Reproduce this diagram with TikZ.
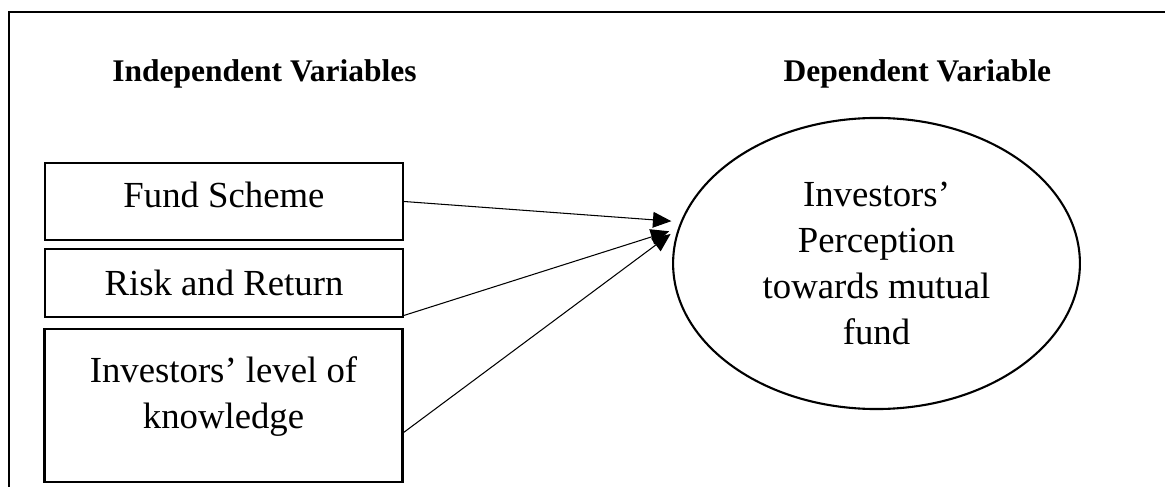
\documentclass[tikz,border=0pt]{standalone}
\usepackage{fontspec}
\setmainfont{Liberation Serif}
\usetikzlibrary{shapes.geometric, arrows.meta}

\begin{document}
\begin{tikzpicture}[x = 0.381pt, y = -0.381pt,
	head/.style = {font = \fontsize{12}{14}\selectfont\bfseries, inner sep = 0pt},
	var/.style = {draw, line width = 0.8pt, minimum width = 136.4pt, inner sep = 0pt, align = center, font = \fontsize{14}{17.5}\selectfont},
	link/.style = {-{Triangle[length = 7pt, width = 6pt]}, line width = 0.4pt, shorten > = 3.5pt}]
	\useasboundingbox (0,0) rectangle (1165,487);
	%frame
	\draw[line width = 0.6pt] (9,487) -- (9,12) -- (1165,12);
	
	%headings
	\node[head, anchor = base] (indep) at (264.5,82) {Independent Variables};
	\node[head, anchor = base west] (dep) at (783,82) {Dependent Variable};
	
	%independent variables
	\node[var, minimum height = 29.3pt, text depth = 5.5pt] (fund) at (224,201.5) {Fund Scheme};
	\node[var, minimum height = 25.9pt] (risk) at (224,283) {Risk and Return};
	\node[var, minimum height = 58.3pt, text depth = 10pt] (know) at (223.5,405.5) {Investors’ level of\\knowledge};
	
	%dependent variable
	\node[ellipse, draw, line width = 0.8pt, minimum width = 155pt, minimum height = 110.9pt, inner sep = 0pt, align = center, font = \fontsize{14}{17.5}\selectfont] (perc) at (876.5,263.5) {Investors’\\Perception\\towards mutual\\fund};
	
	%arrows
	\draw[link] (fund.east) -- (perc.168);
	\draw[link] ([yshift = 1pt]risk.south east) -- (perc.170);
	\draw[link] ([yshift = -10.3pt]know.east) -- (perc.170);
\end{tikzpicture}
\end{document}
